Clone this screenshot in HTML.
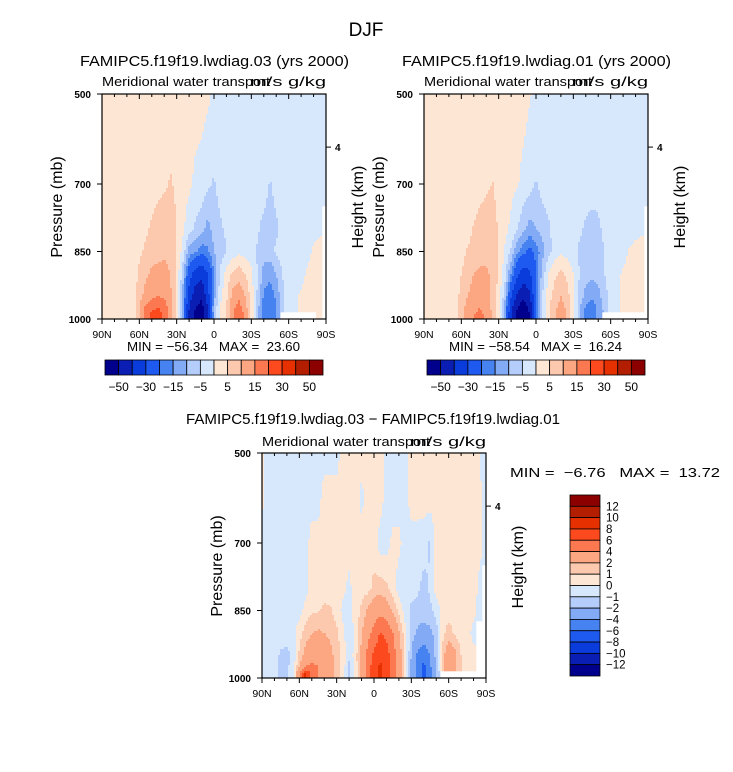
<!DOCTYPE html>
<html><head><meta charset="utf-8">
<style>
body{margin:0;background:#fff;}
svg{display:block;font-family:"Liberation Sans",sans-serif;}
</style></head>
<body>
<svg id="root" width="733" height="772" viewBox="0 0 733 772">
<rect x="0" y="0" width="733" height="772" fill="#fff"/>
<text x="366" y="36" font-size="19" text-anchor="middle">DJF</text>

<text x="80" y="66" font-size="15" textLength="269" lengthAdjust="spacingAndGlyphs">FAMIPC5.f19f19.lwdiag.03 (yrs 2000)</text>
<text x="102" y="86" font-size="13" textLength="168" lengthAdjust="spacingAndGlyphs">Meridional water transport</text>
<text x="250" y="86" font-size="13" textLength="76" lengthAdjust="spacingAndGlyphs">m/s g/kg</text>
<text transform="translate(62,207) rotate(-90)" font-size="16" text-anchor="middle">Pressure (mb)</text>
<text transform="translate(363,207) rotate(-90)" font-size="16" text-anchor="middle">Height (km)</text>
<text x="127" y="351" font-size="13" textLength="173" lengthAdjust="spacingAndGlyphs" xml:space="preserve">MIN = −56.34   MAX =  23.60</text>

<text x="402" y="66" font-size="15" textLength="269" lengthAdjust="spacingAndGlyphs">FAMIPC5.f19f19.lwdiag.01 (yrs 2000)</text>
<text x="424" y="86" font-size="13" textLength="168" lengthAdjust="spacingAndGlyphs">Meridional water transport</text>
<text x="572" y="86" font-size="13" textLength="76" lengthAdjust="spacingAndGlyphs">m/s g/kg</text>
<text transform="translate(384,207) rotate(-90)" font-size="16" text-anchor="middle">Pressure (mb)</text>
<text transform="translate(685,207) rotate(-90)" font-size="16" text-anchor="middle">Height (km)</text>
<text x="449" y="351" font-size="13" textLength="173" lengthAdjust="spacingAndGlyphs" xml:space="preserve">MIN = −58.54   MAX =  16.24</text>

<text x="186" y="424" font-size="15" textLength="374" lengthAdjust="spacingAndGlyphs">FAMIPC5.f19f19.lwdiag.03 − FAMIPC5.f19f19.lwdiag.01</text>
<text x="262" y="446" font-size="13" textLength="168" lengthAdjust="spacingAndGlyphs">Meridional water transport</text>
<text x="410" y="446" font-size="13" textLength="76" lengthAdjust="spacingAndGlyphs">m/s g/kg</text>
<text transform="translate(222,566) rotate(-90)" font-size="16" text-anchor="middle">Pressure (mb)</text>
<text transform="translate(523,567) rotate(-90)" font-size="16" text-anchor="middle">Height (km)</text>
<text x="510" y="477" font-size="13" textLength="210" lengthAdjust="spacingAndGlyphs" xml:space="preserve">MIN =  −6.76   MAX =  13.72</text>
</svg>
<script>
const NS="http://www.w3.org/2000/svg";
const root=document.getElementById('root');
const colors=['#00008c','#0a1eb4','#0a3cdc','#1e5af0','#4682f0','#82aaf5','#b4cdfa','#d7e8fc','#fde6d3','#fcc8ae','#fca782','#fc7850','#fc4a1e','#e63000','#b41e00','#8c0000'];
const levelsTop=[-50,-40,-30,-20,-15,-10,-5,0,5,10,15,20,30,40,50];
const levelsDiff=[-12,-10,-8,-6,-4,-2,-1,0,1,2,4,6,8,10,12];
const cbarTopLabels=['-50','-30','-15','-5','5','15','30','50'];
const cbarDiffLabels=['12','10','8','6','4','2','1','0','-1','-2','-4','-6','-8','-10','-12'];
const xTickLabels=['90N','60N','30N','0','30S','60S','90S'];
const xTickLats=[90,60,30,0,-30,-60,-90];
const yTickP=[500,700,850,1000];
const lats=[90,85,80,75,70,65,60,55,50,45,40,35,30,25,20,15,10,5,0,-5,-10,-15,-20,-25,-30,-35,-40,-45,-50,-55,-60,-65,-70,-75,-80,-85,-90];
const pLevelsTop=[500,700,800,850,900,950,975,990,1000];
const pLevelsDiff=[500,600,700,800,850,900,950,975,990,1000];
const N=null;
const fieldA=[
[2,2,2,2,2,2,2,2,2,2,2,2,2,2,2,2,2,1,-1,-2,-2,-2,-2,-2,-2,-2,-2,-2,-2,-2,-2,-2,-2,-2,-2,-2,-2],
[2,2,2,2,2,2,2,2,2,3,4,5.5,4,2,1,-1,-2,-4,-5.5,-3,-2,-2,-2,-2,-2,-2,-2,-5.5,-3,-2,-2,-2,-2,-2,-2,-2,-2],
[2,2,2,2,2,2,2,4,6,8,9,8,5,1,-3,-6,-8,-12,-8,-6,-4,-2,-2,-2,-2,-4,-7,-8,-6,-3,-2,-2,-2,-2,-2,-1,N],
[2,2,2,2,2,2,4,6,8,8,9,8,5,-2,-12,-14,-18,-16,-10,-8,-5,-3,-1,-2,-2,-6,-8,-7,-4,-3,-2,-2,-2,-2,1,2,N],
[2,2,2,2,2,2,6,9,11,12,12,10,4,-8,-25,-35,-38,-30,-15,-4,2,6,8,5,1,-5,-12,-14,-10,-5,-2,-2,-2,1,2,2,N],
[2,2,2,2,2,2,8,12,14,15,14,11,4,-12,-35,-45,-48,-35,-12,-2,4,12,14,10,3,-6,-16,-18,-14,-6,-2,-1,1,2,2,2,N],
[2,2,2,2,2,2,10,16,19,20,18,12,4,-14,-40,-50,-54,-40,-10,1,5,14,17,13,3,-8,-18,-20,-15,-6,-2,-1,1,2,2,2,N],
[2,2,2,2,2,2,10,17,21,22,19,12,4,-14,-42,-52,-56,-42,-10,1,5,14,18,14,3,-8,-18,-20,-15,N,N,N,N,N,N,2,N],
[2,2,2,2,2,2,10,17,21,22,19,12,4,-14,-42,-52,-56,-42,-10,1,5,14,18,14,3,-8,-18,-20,-15,N,N,N,N,N,N,2,N]];
const fieldB=[
[2,2,2,2,2,2,2,2,2,2,2,2,2,2,2,2,2,0.3,-1,-2,-2,-2,-2,-2,-2,-2,-2,-2,-2,-2,-2,-2,-2,-2,-2,-2,-2],
[2,2,2,2,2,2,2,2,2,3,4,5.2,3.5,2,1.2,0.5,-1.5,-3,-5.5,-3,-2,-2,-2,-2,-2,-2,-2,-2.5,-3,-2,-2,-2,-2,-2,-2,-2,-2],
[2,2,2,2,2,2,2,3,5.5,7,8,7,4.5,1.5,-1,-5,-9,-12,-10,-8,-6,-3,-2,-2,-2,-4,-6,-7,-6,-4,-2,-2,-2,-2,-1,-1,N],
[2,2,2,2,2,2,3,5.5,7,8,8,7,4.5,-0.5,-6,-14,-18,-22,-18,-12,-7,-3,-1,-2,-3,-6,-8,-8,-7,-5,-3,-2,-1.5,0.5,1,2,N],
[2,2,2,2,2,2,5,8,10,11,11,9,4,-3,-15,-28,-35,-32,-20,-8,0,4,6,4,0,-5,-8,-9,-8,-5,-3,-1,0.5,1.5,2,2,N],
[2,2,2,2,2,2,7,10,12,13,12,9,3,-8,-30,-42,-48,-42,-20,-5,3,7,10,7,1,-7,-12,-14,-12,-7,-3,-1,1,2,2,2,N],
[2,2,2,2,2,2,8,12,14,15,13,9,2,-12,-38,-50,-56,-48,-20,-4,4,9,12,9,1,-9,-16,-18,-14,-8,-3,-1,1,2,2,2,N],
[2,2,2,2,2,2,8,12,15,16,14,9,2,-12,-40,-52,-58,-50,-20,-4,4,9,12,9,1,-9,-16,-18,-14,N,N,N,N,N,N,N,N],
[2,2,2,2,2,2,8,12,15,16,14,9,2,-12,-40,-52,-58,-50,-20,-4,4,9,12,9,1,-9,-16,-18,-14,N,N,N,N,N,N,N,N]];
const fieldC=[
[0.3,-0.5,-0.5,-0.5,-0.5,-0.5,-0.5,-0.5,-0.5,-0.5,-0.5,-0.5,-0.5,0.5,0.5,0.5,0.5,0.5,0.5,0.5,-0.5,-0.5,-0.5,-0.5,0.5,0.5,0.5,0.5,0.5,0.5,0.5,0.5,0.5,0.5,0.5,0,-0.5],
[0.3,-0.5,-0.5,-0.5,-0.5,-0.5,-0.5,-0.5,-0.5,-0.5,0.5,0.5,0.5,0.5,0.5,0.5,-0.3,0.5,0.5,0.5,-0.5,-0.5,-0.5,-0.5,0.5,0.5,0.5,0.5,0.5,0.5,0.5,0.5,0.5,0.5,0.5,0.2,-0.5],
[-0.5,-0.5,-0.5,-0.5,-0.5,-0.5,-0.5,-0.5,0.5,0.5,0.5,0.5,0.5,0.5,0.5,0.5,0.5,0.5,0.5,-0.5,-0.5,0.3,0.3,-0.5,-0.5,-0.5,-0.6,-1.2,0.5,0.5,0.5,0.5,0.5,0.5,0.5,0.3,-0.5],
[-0.5,-0.5,-0.5,-0.5,-0.5,-0.5,-0.5,-0.5,0.6,0.6,0.6,0.6,0.6,0.3,-0.3,0.6,0.6,0.6,1.3,1.5,1.2,0.6,-0.6,-0.6,-0.6,-0.8,-1.3,-0.8,0.5,0.5,0.5,0.5,0.5,0.5,0.5,-0.3,N],
[-0.5,-0.5,-0.5,-0.5,-0.5,-0.5,-0.5,0.4,0.8,0.9,1.2,1.1,0.6,-0.3,-0.5,0.5,1.2,2.2,3,3.3,2.8,1.8,0.8,-0.5,-1.2,-1.4,-1.5,-1.3,-0.6,0.3,0.5,0.5,0.5,0.5,0.3,-0.5,N],
[-0.5,-0.5,-0.5,-0.5,-0.5,-0.3,0.6,1.5,2,2.2,2,1.8,1.2,0.3,-0.8,0.3,1.8,3.5,4.5,6.2,5.5,4.2,2.2,0.4,-1.5,-2.2,-2.5,-2.3,-1.5,0.6,1.5,0.8,0.4,0.3,-0.3,N,N],
[-0.5,-0.5,-0.5,-1.2,-1.3,-0.8,1.2,2.5,3,3.2,2.8,2.3,1.6,0.6,-0.8,0.5,2.5,4.5,6.5,7.5,7,5,3,0.5,-2,-4.5,-5.5,-4,-1.5,1.5,3,2.5,1,0.5,0.3,N,N],
[-0.5,-0.5,-0.5,-1.5,-1.2,-0.5,2,4,4.5,4,3.2,2.5,1.8,0.6,-1.2,0.4,2.5,5,7,8.5,7,5,3,0.5,-2.5,-5,-6.5,-4.5,-1.5,1.5,3.5,2.5,1,0.5,0.3,N,N],
[-0.5,-0.5,-0.5,-1.5,-1.2,-0.5,4,8.5,5,4,3.2,2.5,1.8,0.6,-1.2,0.4,2.5,5,7.5,8.5,7,5,3,0.5,-2.5,-5,-6.8,-4.5,-1.5,N,N,N,N,N,N,N,N],
[-0.5,-0.5,-0.5,-1.5,-1.2,-0.5,4,8.5,5,4,3.2,2.5,1.8,0.6,-1.2,0.4,2.5,5,7.5,8.5,7,5,3,0.5,-2.5,-5,-6.8,-4.5,-1.5,N,N,N,N,N,N,N,N]];

function el(tag,attrs,parent){const e=document.createElementNS(NS,tag);for(const k in attrs)e.setAttribute(k,attrs[k]);(parent||root).appendChild(e);return e;}

function sample(field,pLev,lat,p){
  const u=(90-lat)/5;let k=Math.min(Math.floor(u),lats.length-2);const fu=u-k;
  let i=0;while(i<pLev.length-2&&p>pLev[i+1])i++;
  const fv=Math.max(0,Math.min(1,(p-pLev[i])/(pLev[i+1]-pLev[i])));
  const nk=fu<0.5?k:k+1,ni=fv<0.5?i:i+1;
  if(field[ni][nk]===null)return null;
  const c=[[field[i][k],(1-fu)*(1-fv)],[field[i][k+1],fu*(1-fv)],[field[i+1][k],(1-fu)*fv],[field[i+1][k+1],fu*fv]];
  let s=0,w=0;for(const [v,wt] of c){if(v!==null){s+=v*wt;w+=wt;}}
  return w>0?s/w:null;
}
function bin(v,levels){let b=0;for(const l of levels)if(v>=l)b++;return b;}

function panel(id,field,pLev,levels,x0,x1,y0,y1){
  const g=el('g',{});
  
  
  const xS=lat=>x0+(90-lat)/180*(x1-x0);
  const yS=p=>y0+(p-500)/500*(y1-y0);
  const st=2;
  for(let y=y0;y<y1;y+=st){
    const h=Math.min(st,y1-y);
    const p=500+500*((y+h/2)-y0)/(y1-y0);
    let runStart=x0,runCol=undefined;
    const flush=(xe)=>{
      if(runCol!==undefined&&runCol!==null){
        const r=el('rect',{x:runStart,y:y,width:xe-runStart+0.3,height:h+0.3,fill:runCol},g);
        
        
      }
    };
    for(let x=x0;x<x1;x+=st){
      const lat=90-180*((x+st/2)-x0)/(x1-x0);
      const v=sample(field,pLev,lat,p);
      const col=v===null?null:colors[bin(v,levels)];
      if(col!==runCol){flush(x);runStart=x;runCol=col;}
    }
    flush(x1);
  }
  const frame=el('rect',{x:x0,y:y0,width:x1-x0,height:y1-y0,fill:'none',stroke:'#000','stroke-width':1.2});
  
  
  for(let lat=90;lat>=-90;lat-=10){
    const major=lat%30===0;const x=xS(lat);const L=major?5:3;
    const tb=el('line',{x1:x,x2:x,y1:y1,y2:y1+L,stroke:'#000','stroke-width':1});
    
    
    const tt=el('line',{x1:x,x2:x,y1:y0,y2:y0+L,stroke:'#000','stroke-width':1});
    
    
  }
  xTickLats.forEach((lat,j)=>{
    const t=el('text',{x:xS(lat),y:y1+19,'font-size':10.5,'text-anchor':'middle'});
    t.textContent=xTickLabels[j];
    
    
  });
  yTickP.forEach(p=>{
    const l=el('line',{x1:x0-5,x2:x0,y1:yS(p),y2:yS(p),stroke:'#000','stroke-width':1});
    
    
    const t=el('text',{x:x0-11,y:yS(p)+4,'font-size':10,'font-weight':'bold','text-anchor':'end'});
    t.textContent=String(p);
    
    
  });
  const hy=yS(618);
  const rl=el('line',{x1:x1,x2:x1+5,y1:hy,y2:hy,stroke:'#000','stroke-width':1});
  
  
  const rt=el('text',{x:x1+9,y:hy+4,'font-size':10,'font-weight':'bold'});
  rt.textContent='4';
  
  
}
panel('panel-a',fieldA,pLevelsTop,levelsTop,102,326,94,319);
panel('panel-b',fieldB,pLevelsTop,levelsTop,424,648,94,319);
panel('panel-c',fieldC,pLevelsDiff,levelsDiff,262,486,453,678);

function hbar(id,x0,x1,y0,y1){
  const w=(x1-x0)/colors.length;
  colors.forEach((c,i)=>{
    const r=el('rect',{x:x0+i*w,y:y0,width:w,height:y1-y0,fill:c,stroke:'#000','stroke-width':0.8});
    
    
  });
  cbarTopLabels.forEach((lab,j)=>{
    const t=el('text',{x:x0+(1+2*j)*w,y:y1+16,'font-size':12,'text-anchor':'middle'});
    t.textContent=lab.replace('-','−');
    
    
  });
}
hbar('colorbar-a',105,323,360,375);
hbar('colorbar-b',427,645,360,375);
(function(){
  const x0=570,x1=600,y0=495,y1=676;const h=(y1-y0)/colors.length;
  colors.slice().reverse().forEach((c,i)=>{
    const r=el('rect',{x:x0,y:y0+i*h,width:x1-x0,height:h,fill:c,stroke:'#000','stroke-width':0.8});
    
    
  });
  cbarDiffLabels.forEach((lab,j)=>{
    const t=el('text',{x:x1+6,y:y0+(j+1)*h+4,'font-size':11.5});
    t.textContent=lab.replace('-','−');
    
    
  });
})();
</script>
</body></html>
